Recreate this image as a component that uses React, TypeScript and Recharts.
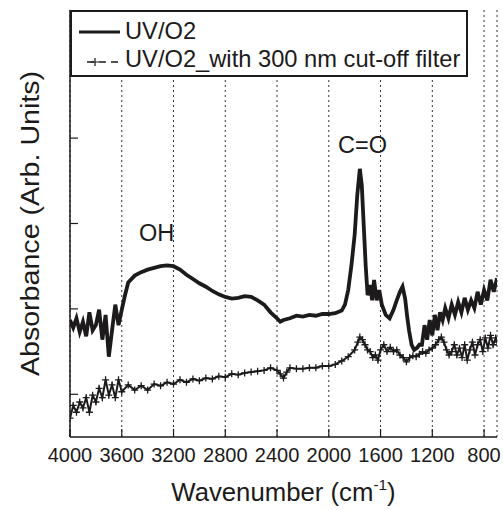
import React from 'react';
import { LineChart, Line, XAxis, YAxis, CartesianGrid, ReferenceDot, Legend } from 'recharts';

const FONT = '"Liberation Sans", Arial, Helvetica, sans-serif';
const INK = '#1c1a1a';

const X_TICKS = [4000, 3600, 3200, 2800, 2400, 2000, 1600, 1200, 800];
const Y_TICKS = [0.5, 1.5, 2.5, 3.5, 4.5];
const SERIES_NAMES = ['UV/O2', 'UV/O2_with 300 nm cut-off filter'];
const X_TITLE = 'Wavenumber (cm';
const Y_TITLE = 'Absorbance (Arb. Units)';

// UV/O2 spectrum
const WN_UVO2 = [
  4000, 3975, 3950, 3925, 3900, 3875, 3850, 3825, 3800, 3775, 3750, 3725, 3700, 3675, 3650, 3625, 3600,
  3575, 3550, 3500, 3450, 3400, 3350, 3300, 3250, 3200, 3150, 3100, 3050, 3000, 2950, 2900, 2850, 2800,
  2750, 2700, 2650, 2600, 2550, 2500, 2450, 2400, 2375, 2350, 2300, 2250, 2200, 2150, 2100, 2050, 2000,
  1950, 1900, 1875, 1850, 1825, 1800, 1780, 1760, 1745, 1730, 1715, 1700, 1680, 1665, 1650, 1630, 1610,
  1590, 1560, 1530, 1500, 1475, 1450, 1430, 1410, 1395, 1380, 1360, 1340, 1320, 1300, 1280, 1260, 1240,
  1220, 1200, 1180, 1160, 1140, 1120, 1100, 1075, 1050, 1025, 1000, 975, 950, 925, 900, 875, 850, 825,
  800, 775, 750, 725, 700,
];
const ABS_UVO2 = [
  1.37, 1.28, 1.39, 1.23, 1.35, 1.18, 1.46, 1.25, 1.31, 1.49, 1.14, 1.43, 0.94, 1.25, 1.55, 1.31, 1.49,
  1.66, 1.81, 1.89, 1.93, 1.96, 1.98, 2.0, 2.01, 2.0, 1.96, 1.9, 1.85, 1.8, 1.76, 1.71, 1.67, 1.64,
  1.62, 1.63, 1.65, 1.64, 1.6, 1.55, 1.46, 1.39, 1.35, 1.37, 1.39, 1.42, 1.41, 1.43, 1.42, 1.44, 1.44,
  1.45, 1.48, 1.55, 1.72, 2.01, 2.37, 2.83, 3.14, 2.95, 2.48, 2.01, 1.66, 1.78, 1.6, 1.84, 1.6, 1.72,
  1.55, 1.43, 1.39, 1.49, 1.6, 1.7, 1.76, 1.62, 1.42, 1.25, 1.08, 1.02, 1.04, 1.08, 1.08, 1.31, 1.14,
  1.37, 1.19, 1.43, 1.25, 1.46, 1.37, 1.51, 1.39, 1.55, 1.43, 1.58, 1.46, 1.63, 1.49, 1.6, 1.51, 1.7, 1.55,
  1.72, 1.6, 1.84, 1.7, 1.86,
];

// UV/O2 with 300 nm cut-off filter
const WN_FILTER = [
  4000, 3975, 3950, 3925, 3900, 3875, 3850, 3825, 3800, 3775, 3750, 3725, 3700, 3675, 3650, 3625, 3600,
  3550, 3500, 3450, 3400, 3350, 3300, 3250, 3200, 3150, 3100, 3050, 3000, 2950, 2900, 2850, 2800, 2750,
  2700, 2650, 2600, 2550, 2500, 2450, 2400, 2375, 2350, 2325, 2300, 2250, 2200, 2150, 2100, 2050, 2000,
  1950, 1900, 1850, 1800, 1775, 1760, 1740, 1720, 1700, 1680, 1660, 1640, 1620, 1600, 1575, 1550, 1525,
  1500, 1475, 1450, 1425, 1400, 1375, 1350, 1325, 1300, 1275, 1250, 1225, 1200, 1175, 1150, 1130, 1110,
  1090, 1070, 1050, 1030, 1010, 990, 970, 950, 930, 910, 890, 870, 850, 830, 810, 790, 770, 750, 730,
  710, 700,
];
const ABS_FILTER = [
  0.22, 0.37, 0.29, 0.41, 0.34, 0.46, 0.29, 0.49, 0.41, 0.57, 0.46, 0.67, 0.49, 0.61, 0.46, 0.67, 0.53,
  0.61, 0.55, 0.6, 0.55, 0.62, 0.6, 0.64, 0.62, 0.67, 0.64, 0.68, 0.66, 0.69, 0.68, 0.71, 0.7, 0.74,
  0.73, 0.75, 0.76, 0.77, 0.78, 0.81, 0.78, 0.74, 0.69, 0.76, 0.81, 0.8, 0.8, 0.81, 0.81, 0.83, 0.83,
  0.85, 0.89, 0.94, 1.02, 1.11, 1.17, 1.14, 1.08, 1.02, 1.0, 0.93, 0.96, 0.9, 1.02, 1.08, 1.0, 1.05,
  1.0, 1.02, 0.96, 0.93, 0.88, 0.93, 0.95, 0.94, 0.97, 1.0, 0.98, 1.02, 1.04, 1.08, 1.14, 1.17, 1.11,
  1.02, 0.96, 1.0, 1.08, 0.96, 1.04, 0.93, 1.08, 0.9, 1.02, 1.11, 0.96, 1.08, 1.14, 1.0, 1.16, 1.04, 1.19, 1.08,
  1.16, 1.11,
];

const ANNOTATIONS = [
  { label: 'C=O', x: 1740, y: 3.33 },
  { label: 'OH', x: 3330, y: 2.29 },
];

const dataUvo2 = WN_UVO2.map((x, i) => ({ x, y: ABS_UVO2[i] }));
const dataFilter = WN_FILTER.map((x, i) => ({ x, y: ABS_FILTER[i] }));

const PlusDot = (props: any) => {
  const { cx, cy, index } = props;
  if (cx == null || cy == null) return <g key={`p${index}`} />;
  return (
    <path
      key={`p${index}`}
      d={`M${cx - 3.5},${cy}h7M${cx},${cy - 3.5}v7`}
      stroke={INK}
      strokeWidth={1.3}
      fill="none"
    />
  );
};

const EmptyTick = () => <g />;

const LegendBox = () => (
  <svg width={398} height={67} style={{ display: 'block' }}>
    <rect x={1} y={1} width={396} height={65} fill="#fff" stroke={INK} strokeWidth={2} />
    <line x1={9} x2={50} y1={22} y2={22} stroke={INK} strokeWidth={3} />
    <text x={55} y={28.5} fontSize={23.7} fontFamily={FONT} fill={INK}>{SERIES_NAMES[0]}</text>
    <line x1={17} x2={50} y1={52} y2={52} stroke={INK} strokeWidth={1.5} strokeDasharray="7 5" />
    <path d="M21,52h8M25,48v8" stroke={INK} strokeWidth={1.2} />
    <text x={55} y={57} fontSize={23.7} fontFamily={FONT} fill={INK}>{SERIES_NAMES[1]}</text>
  </svg>
);

const XTitle = (props: any) => {
  const vb = props.viewBox || { x: 70, y: 437, width: 427, height: 73 };
  const cx = vb.x + vb.width / 2;
  return (
    <text
      x={0}
      y={0}
      transform={`translate(${cx}, 501) scale(1.03, 1)`}
      textAnchor="middle"
      fontSize={25}
      fontFamily={FONT}
      fill={INK}
    >
      {X_TITLE}
      <tspan dy={-11} fontSize={15}>-1</tspan>
      <tspan dy={11}>)</tspan>
    </text>
  );
};

const YTitle = (props: any) => {
  const vb = props.viewBox || { x: 0, y: 10, width: 70, height: 427 };
  const cy = vb.y + vb.height / 2;
  return (
    <text
      x={0}
      y={0}
      transform={`translate(39, ${cy}) rotate(-90) scale(1.1, 1)`}
      textAnchor="middle"
      fontSize={26}
      fontFamily={FONT}
      fill={INK}
    >
      {Y_TITLE}
    </text>
  );
};

export default function App() {
  return (
    <div style={{ position: 'absolute', left: 0, top: 0, width: 503, height: 510, background: '#fff' }}>
      <LineChart width={503} height={510} margin={{ top: 10, right: 6, bottom: 0, left: 0 }}>
        <CartesianGrid
          xAxisId="bottom"
          yAxisId="left"
          horizontal={false}
          vertical
          stroke="#333"
          strokeWidth={1}
          strokeDasharray="2 3"
        />
        <XAxis
          xAxisId="bottom"
          type="number"
          dataKey="x"
          domain={[700, 4000]}
          reversed
          allowDataOverflow
          ticks={X_TICKS}
          interval={0}
          height={73}
          orientation="bottom"
          axisLine={{ stroke: INK, strokeWidth: 1.5 }}
          tickLine={{ stroke: INK, strokeWidth: 1.2 }}
          tickSize={-8}
          tickMargin={19}
          tick={{ fontSize: 20, fontFamily: FONT, fill: INK }}
          label={{ content: XTitle }}
        />
        <XAxis
          xAxisId="top"
          type="number"
          dataKey="x"
          domain={[700, 4000]}
          reversed
          allowDataOverflow
          ticks={X_TICKS}
          interval={0}
          height={0}
          orientation="top"
          axisLine={{ stroke: INK, strokeWidth: 1.5 }}
          tickLine={{ stroke: INK, strokeWidth: 1.2 }}
          tickSize={-8}
          tick={EmptyTick}
        />
        <YAxis
          yAxisId="left"
          type="number"
          domain={[0, 5]}
          allowDataOverflow
          ticks={Y_TICKS}
          interval={0}
          width={70}
          orientation="left"
          axisLine={{ stroke: INK, strokeWidth: 1.5 }}
          tickLine={{ stroke: INK, strokeWidth: 1.2 }}
          tickSize={-8}
          tick={EmptyTick}
          label={{ content: YTitle }}
        />
        <YAxis
          yAxisId="right"
          type="number"
          domain={[0, 5]}
          allowDataOverflow
          ticks={Y_TICKS}
          interval={0}
          width={0}
          orientation="right"
          axisLine={{ stroke: INK, strokeWidth: 1.5 }}
          tickLine={{ stroke: INK, strokeWidth: 1.2 }}
          tickSize={-8}
          tick={EmptyTick}
        />
        <Line
          xAxisId="bottom"
          yAxisId="left"
          data={dataFilter}
          dataKey="y"
          name={SERIES_NAMES[1]}
          type="linear"
          stroke={INK}
          strokeWidth={2}
          dot={PlusDot}
          activeDot={false}
          isAnimationActive={false}
        />
        <Line
          xAxisId="bottom"
          yAxisId="left"
          data={dataUvo2}
          dataKey="y"
          name={SERIES_NAMES[0]}
          type="linear"
          stroke={INK}
          strokeWidth={3.8}
          dot={false}
          activeDot={false}
          isAnimationActive={false}
        />
        {ANNOTATIONS.map((a) => (
          <ReferenceDot
            key={a.label}
            xAxisId="bottom"
            yAxisId="left"
            x={a.x}
            y={a.y}
            r={0}
            ifOverflow="visible"
            shape={(p: any) => (
              <text x={p.cx} y={p.cy} textAnchor="middle" fontSize={23.5} fontFamily={FONT} fill={INK}>
                {a.label}
              </text>
            )}
          />
        ))}
        <Legend
          layout="vertical"
          verticalAlign="middle"
          align="center"
          wrapperStyle={{ top: 10, left: 70, width: 398, height: 67 }}
          content={() => <LegendBox />}
        />
      </LineChart>
    </div>
  );
}
